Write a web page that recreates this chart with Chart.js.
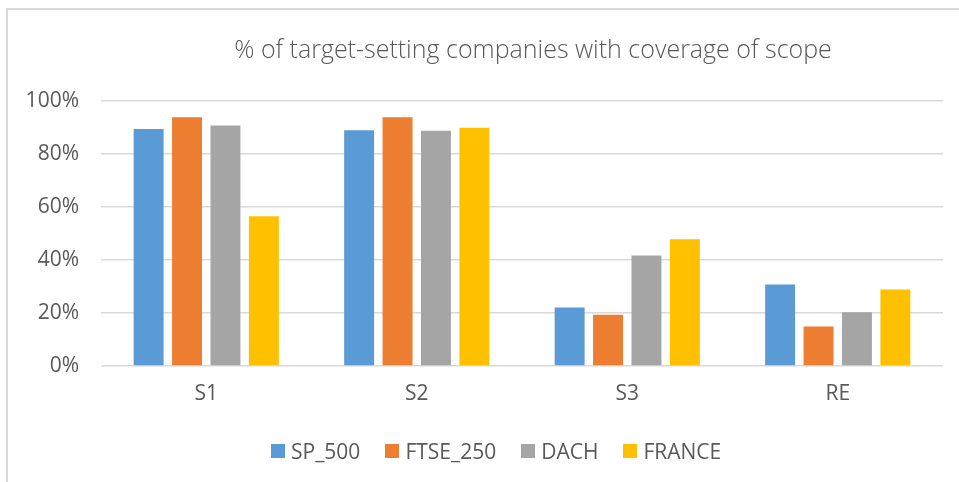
<!DOCTYPE html>
<html>
<head>
<meta charset="utf-8">
<script src="https://cdn.jsdelivr.net/npm/chart.js@4.4.0/dist/chart.umd.min.js"></script>
<style>
  html, body { margin: 0; padding: 0; background: #fff; overflow: hidden; }
  #wrap { position: relative; width: 959px; height: 482px; font-family: 'Open Sans', sans-serif; color: #595959; }
  #frame { position: absolute; left: 6px; top: 8px; width: 1000px; height: 1000px;
           border-left: 2px solid #d9d9d9; border-top: 2px solid #d9d9d9; }
  canvas { position: absolute; left: 0; top: 0; }
  #title { position: absolute; left: 233px; top: 48px; transform: translate(-50%, -50%); left: 533px;
           white-space: nowrap; font-size: 25px; font-weight: 300; }
  #legend { position: absolute; left: 271px; top: 451px; transform: translateY(-50%);
            display: flex; align-items: center; white-space: nowrap; font-size: 21px; }
  .legend-item { display: flex; align-items: center; margin-right: 25px; }
  .legend-dot { width: 14px; height: 14px; margin-right: 6px; }
</style>
</head>
<body>
<div id="wrap">
  <div id="frame"></div>
  <canvas id="chart" width="959" height="482"></canvas>
  <div id="title">% of target-setting companies with coverage of scope</div>
  <div id="legend"></div>
</div>
<script>
const categories = ['S1', 'S2', 'S3', 'RE'];
const seriesNames = ['SP_500', 'FTSE_250', 'DACH', 'FRANCE'];
const sp500 = [89.4, 89.0, 22.1, 30.8];
const ftse250 = [93.9, 93.9, 19.3, 14.9];
const dach = [90.8, 88.8, 41.7, 20.3];
const france = [56.5, 89.9, 47.8, 28.9];
const yTicks = [0, 20, 40, 60, 80, 100];
const COLORS = ['#5B9BD5', '#ED7D31', '#A5A5A5', '#FFC000'];

const FONT = "'Open Sans', sans-serif";
const TEXT = '#595959';

// HTML legend, same order as the datasets
let legendHtml = '';
seriesNames.forEach((name, i) => {
    legendHtml += `<div class="legend-item"><div class="legend-dot" style="background:${COLORS[i]}"></div><div>${name}</div></div>`;
});
document.getElementById('legend').innerHTML = legendHtml;

const ctx = document.getElementById('chart').getContext('2d');
new Chart(ctx, {
    type: 'bar',
    data: {
        labels: categories,
        datasets: [sp500, ftse250, dach, france].map((d, i) => ({
            label: seriesNames[i], data: d, backgroundColor: COLORS[i],
            categoryPercentage: 0.73, barPercentage: 0.78
        }))
    },
    options: {
        responsive: false, animation: false, devicePixelRatio: 1,
        layout: { padding: { left: 0, right: 16, top: 101, bottom: 0 } },
        plugins: { title: { display: false }, legend: { display: false }, tooltip: { enabled: false } },
        scales: {
            y: {
                min: 0, max: 100,
                afterBuildTicks: s => { s.ticks = yTicks.map(v => ({ value: v })); },
                afterFit: s => { s.width = 101; },
                ticks: { callback: v => v + '%', color: TEXT, padding: 22, font: { family: FONT, size: 21 } },
                grid: { color: '#d9d9d9', lineWidth: 1.5, drawTicks: false },
                border: { display: false }
            },
            x: {
                afterFit: s => { s.height = 116; },
                ticks: { color: TEXT, padding: 15, font: { family: FONT, size: 21 } },
                grid: { display: false, drawTicks: false },
                border: { display: false }
            }
        }
    }
});
</script>
</body>
</html>
